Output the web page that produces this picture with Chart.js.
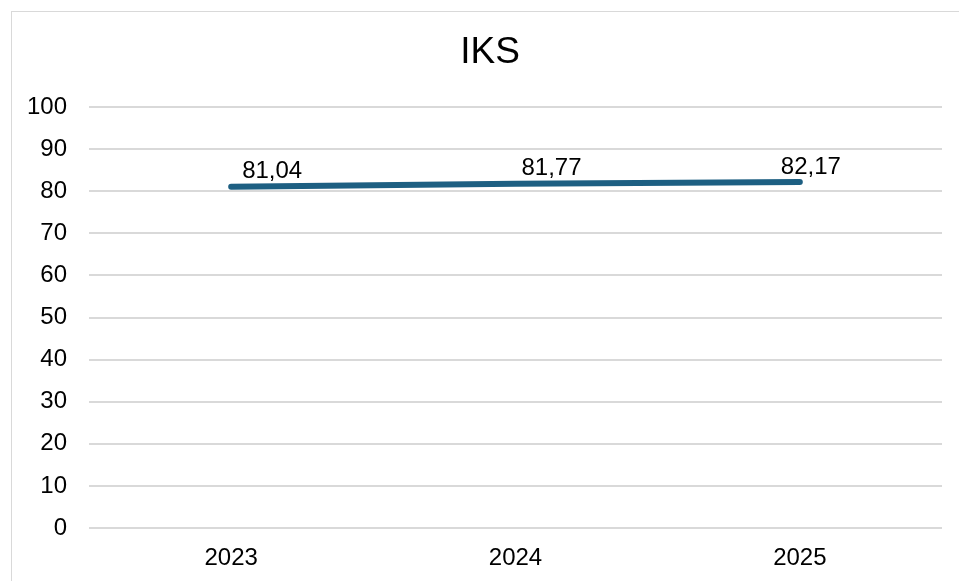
<!DOCTYPE html>
<html>
<head>
<meta charset="utf-8">
<script src="https://cdn.jsdelivr.net/npm/chart.js@4"></script>
<style>
html,body{margin:0;padding:0;background:#fff;}
#wrap{position:relative;width:959px;height:581px;}
</style>
</head>
<body>
<div id="wrap"><canvas id="c" width="959" height="581"></canvas></div>
<script>
const categories = ['2023', '2024', '2025'];
const iksValues = [81.04, 81.77, 82.17];
const valueLabels = ['81,04', '81,77', '82,17'];
const yTicks = [0, 10, 20, 30, 40, 50, 60, 70, 80, 90, 100];
const chartTitle = 'IKS';

// label placement offsets (px) relative to each point
const labelDx = [41, 36, 11];
const labelDy = [-15, -15, -15];

const FONT = "'Liberation Sans', Arial, sans-serif";

const frame = {
  id: 'frame',
  beforeDraw(chart) {
    const ctx = chart.ctx;
    ctx.save();
    ctx.fillStyle = '#ffffff';
    ctx.fillRect(0, 0, chart.width, chart.height);
    ctx.strokeStyle = '#d9d9d9';
    ctx.lineWidth = 1;
    ctx.strokeRect(11.5, 11.5, 1000, 700);
    ctx.restore();
  },
  afterDraw(chart) {
    const ctx = chart.ctx;
    ctx.save();
    ctx.font = '37px ' + FONT;
    ctx.fillStyle = '#000000';
    ctx.textAlign = 'center';
    ctx.textBaseline = 'middle';
    ctx.fillText(chartTitle, 490, 53);
    ctx.restore();
  }
};

const dataLabels = {
  id: 'dataLabels',
  afterDatasetsDraw(chart) {
    const ctx = chart.ctx;
    const meta = chart.getDatasetMeta(0);
    ctx.save();
    ctx.font = '24px ' + FONT;
    ctx.fillStyle = '#000000';
    ctx.textAlign = 'center';
    ctx.textBaseline = 'middle';
    meta.data.forEach((pt, i) => {
      ctx.fillText(valueLabels[i], pt.x + labelDx[i], pt.y + labelDy[i]);
    });
    ctx.restore();
  }
};

new Chart(document.getElementById('c'), {
  type: 'line',
  data: {
    labels: categories,
    datasets: [{
      label: 'IKS',
      data: iksValues,
      borderColor: '#1d5f82',
      borderWidth: 6,
      borderCapStyle: 'round',
      borderJoinStyle: 'round',
      pointRadius: 0,
      tension: 0,
      fill: false
    }]
  },
  options: {
    responsive: false,
    animation: false,
    devicePixelRatio: 1,
    layout: { padding: { left: 0, right: 17, top: 107, bottom: 0 } },
    plugins: {
      legend: { display: false },
      tooltip: { enabled: false },
      title: { display: false }
    },
    scales: {
      x: {
        offset: true,
        grid: { display: false, drawTicks: false },
        border: { display: false },
        ticks: { color: '#000000', font: { family: FONT, size: 24 }, padding: 16, maxRotation: 0 },
        afterFit(scale) { scale.height = 53; }
      },
      y: {
        min: 0,
        max: 100,
        afterBuildTicks(scale) { scale.ticks = yTicks.map(v => ({ value: v })); },
        grid: { color: '#d9d9d9', lineWidth: 2, drawTicks: false },
        border: { display: false },
        ticks: { color: '#000000', font: { family: FONT, size: 24 }, padding: 22 },
        afterFit(scale) { scale.width = 89; }
      }
    }
  },
  plugins: [frame, dataLabels]
});
</script>
</body>
</html>
